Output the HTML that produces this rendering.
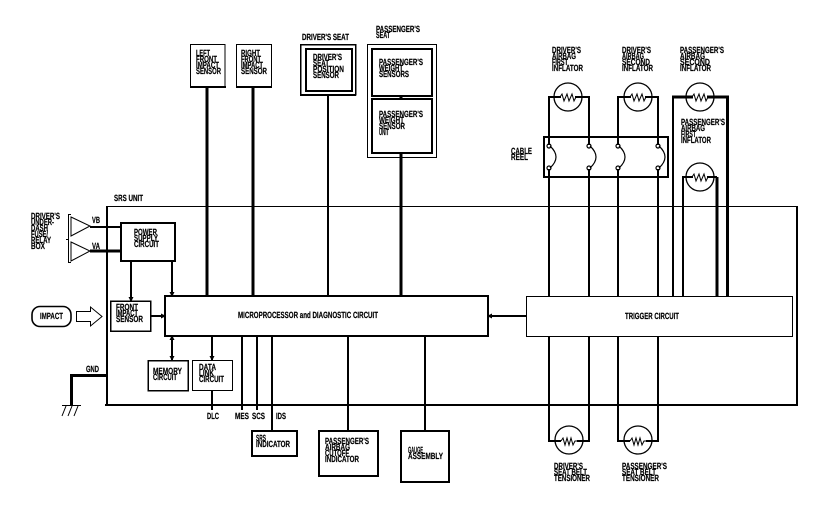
<!DOCTYPE html>
<html><head><meta charset="utf-8">
<style>
html,body{margin:0;padding:0;background:#fff;width:832px;height:512px;overflow:hidden}
svg{display:block}
text{font-family:"Liberation Sans",sans-serif;font-weight:bold;font-size:9px;fill:#000;stroke:#000;stroke-width:.2;text-rendering:geometricPrecision}
.s{shape-rendering:crispEdges;fill:none;stroke:#000}
.c{fill:none;stroke:#000;stroke-width:1.2}
</style></head><body>
<svg width="832" height="512" viewBox="0 0 832 512" xmlns="http://www.w3.org/2000/svg">
<defs>
<marker id="a" markerWidth="5" markerHeight="5" refX="4" refY="2.5" orient="auto" markerUnits="userSpaceOnUse"><path d="M0 0L5 2.5L0 5Z" fill="#000"/></marker>
<marker id="b" markerWidth="5" markerHeight="5" refX="1" refY="2.5" orient="auto" markerUnits="userSpaceOnUse"><path d="M5 0L0 2.5L5 5Z" fill="#000"/></marker>
</defs>

<!-- SRS unit -->
<path class="s" d="M106 206.500H797" stroke-width="1"/>
<path class="s" d="M107 206V406M105 405H798M797 206V406" stroke-width="2"/>

<!-- left side -->
<path d="M71 217L90 226L71 236ZM71 242L90 251L71 261Z" fill="none" stroke="#000" stroke-width="1"/>
<path class="s" d="M71 214.500H68.500V262.500H71M66 239.500H68" stroke-width="1"/>
<path class="s" d="M90 227H121" stroke-width="2"/>
<path class="s" d="M90 251H121" stroke-width="3"/>
<rect class="s" x="121" y="223" width="54" height="38" stroke-width="2"/>
<rect class="s" x="110.500" y="301" width="40" height="30" stroke-width="1.500"/>
<rect class="s" x="165" y="296" width="323" height="40" stroke-width="2"/>
<rect class="s" x="148" y="360.500" width="40" height="30" stroke-width="1.500"/>
<rect class="s" x="192.500" y="360.500" width="40" height="30" stroke-width="1"/>
<path class="s" d="M131 261V301" stroke-width="2" marker-end="url(#a)"/>
<path class="s" d="M172 261V296" stroke-width="2" marker-end="url(#a)"/>
<path class="s" d="M151 316H165" stroke-width="2" marker-end="url(#a)"/>
<path class="s" d="M172 336V360" stroke-width="2" marker-start="url(#b)" marker-end="url(#a)"/>
<path class="s" d="M212 336V360" stroke-width="2" marker-end="url(#a)"/>
<path class="s" d="M212 390V410M242 336V410M257 336V410" stroke-width="2"/>
<path class="s" d="M272 336V432" stroke-width="2"/>

<!-- GND -->
<path class="s" d="M107 375.500H71.500V406" stroke-width="3"/>
<path class="s" d="M62 405.500H81" stroke-width="1"/>
<path d="M66 406L62 416M72 406L68 416M78 406L74 416" fill="none" stroke="#000" stroke-width="1"/>

<!-- impact -->
<rect x="32" y="306.500" width="39" height="20" rx="8" fill="none" stroke="#000" stroke-width="1.600"/>
<path d="M76.500 311.500H90.500V307L102 316.500L90.500 326V321.500H76.500Z" fill="none" stroke="#000" stroke-width="1"/>

<!-- top sensors -->
<path class="s" d="M190.500 44.500H225M236.500 44.500H272M190.500 44V87M225 44V87M236.500 44V87M271.500 44V87" stroke-width="1"/>
<path class="s" d="M190 87H226M236 87H272" stroke-width="2"/>
<path class="s" d="M207 87V296M253 87V296" stroke-width="3"/>
<rect class="s" x="300.500" y="44.500" width="55" height="50" stroke-width="1.500"/>
<path class="s" d="M300 95H356" stroke-width="2"/>
<rect class="s" x="306" y="49" width="46" height="42" stroke-width="2"/>
<path class="s" d="M328 95V296" stroke-width="2"/>
<rect class="s" x="367.500" y="44.500" width="69" height="113" stroke-width="1"/>
<rect class="s" x="372" y="49" width="60" height="47" stroke-width="2"/>
<rect class="s" x="372" y="99" width="60" height="54" stroke-width="2"/>
<path class="s" d="M401 96V99M401 153V296" stroke-width="3"/>

<!-- bottom boxes -->
<rect class="s" x="252" y="431" width="45" height="25" stroke-width="2"/>
<rect class="s" x="319" y="431" width="59" height="45" stroke-width="2"/>
<rect class="s" x="401" y="431" width="48" height="51" stroke-width="2"/>
<path class="s" d="M348 336V431M425 336V431" stroke-width="2"/>

<!-- trigger -->
<rect class="s" x="526.500" y="296.500" width="266" height="40" stroke-width="1"/>
<path class="s" d="M526 316H488" stroke-width="2" marker-end="url(#a)"/>

<!-- cable reel -->
<rect class="s" x="544" y="137" width="124" height="40" stroke-width="2"/>

<!-- upper squib wiring -->
<path class="s" d="M549 145V97H561M575 97H589V145M618 145V97H631M645 97H658V145" stroke-width="2"/>
<path class="s" d="M549 169V296M589 169V296M618 169V296M658 169V296" stroke-width="2"/>
<path class="s" d="M673 296V97" stroke-width="2"/>
<path class="s" d="M672 97H693M707 97H727.500V296" stroke-width="3"/>
<path class="s" d="M683 296V177H693M707 177H717" stroke-width="2"/>
<path class="s" d="M717 177V296" stroke-width="3"/>

<!-- reel coils -->
<g class="c">
<path d="M549 146Q561 157 549 168" transform="translate(1,0)"/>
<path d="M589 146Q601 157 589 168" transform="translate(1,0)"/>
<path d="M618 146Q630 157 618 168" transform="translate(1,0)"/>
<path d="M658 146Q670 157 658 168" transform="translate(1,0)"/>
<circle cx="549" cy="146" r="2"/><circle cx="549" cy="168" r="2"/>
<circle cx="589" cy="146" r="2"/><circle cx="589" cy="168" r="2"/>
<circle cx="618" cy="146" r="2"/><circle cx="618" cy="168" r="2"/>
<circle cx="658" cy="146" r="2"/><circle cx="658" cy="168" r="2"/>
</g>

<!-- squibs -->
<g fill="none" stroke="#000" stroke-width="1.300">
<circle cx="568" cy="97" r="14"/><circle cx="638" cy="97" r="14"/><circle cx="700" cy="97" r="14"/><circle cx="700" cy="177" r="14"/>
<circle cx="569" cy="440" r="14"/><circle cx="638" cy="440" r="14"/>
</g>
<g fill="none" stroke="#000" stroke-width="1">
<path d="M560 97l2 -3l2 7l3 -7l2 7l3 -7l2 7l2 -4h3"/>
<path d="M630 97l2 -3l2 7l3 -7l2 7l3 -7l2 7l2 -4h3"/>
<path d="M692 97l2 -3l2 7l3 -7l2 7l3 -7l2 7l2 -4h3"/>
<path d="M692 177l2 -3l2 7l3 -7l2 7l3 -7l2 7l2 -4h3"/>
<path d="M561 441l2 -3l2 7l2 -7l2 7l2 -7l2 7l2 -4h3"/>
<path d="M630 441l2 -3l2 7l2 -7l2 7l2 -7l2 7l2 -4h3"/>
</g>
<path class="s" d="M549 336V441H561M589 336V441H577M618 336V441H630M658 336V441H646" stroke-width="2"/>

<!-- labels -->
<g>
<text x="114" y="201" textLength="29" lengthAdjust="spacingAndGlyphs">SRS UNIT</text>
<text x="31" y="219" textLength="29" lengthAdjust="spacingAndGlyphs">DRIVER'S</text>
<text x="31" y="225" textLength="23" lengthAdjust="spacingAndGlyphs">UNDER-</text>
<text x="31" y="231" textLength="17" lengthAdjust="spacingAndGlyphs">DASH</text>
<text x="31" y="237" textLength="17" lengthAdjust="spacingAndGlyphs">FUSE/</text>
<text x="31" y="243" textLength="20" lengthAdjust="spacingAndGlyphs">RELAY</text>
<text x="31" y="249" textLength="14" lengthAdjust="spacingAndGlyphs">BOX</text>
<text x="92" y="223" textLength="8" lengthAdjust="spacingAndGlyphs">VB</text>
<text x="92" y="249" textLength="8" lengthAdjust="spacingAndGlyphs">VA</text>
<text x="134" y="235" textLength="23" lengthAdjust="spacingAndGlyphs">POWER</text>
<text x="134" y="241" textLength="24" lengthAdjust="spacingAndGlyphs">SUPPLY</text>
<text x="134" y="247" textLength="25" lengthAdjust="spacingAndGlyphs">CIRCUIT</text>
<text x="116" y="310" textLength="22" lengthAdjust="spacingAndGlyphs">FRONT</text>
<text x="116" y="316" textLength="22" lengthAdjust="spacingAndGlyphs">IMPACT</text>
<text x="116" y="322" textLength="27" lengthAdjust="spacingAndGlyphs">SENSOR</text>
<text x="40" y="319" textLength="23" lengthAdjust="spacingAndGlyphs">IMPACT</text>
<text x="238" y="318" textLength="140" lengthAdjust="spacingAndGlyphs">MICROPROCESSOR and DIAGNOSTIC CIRCUIT</text>
<text x="153" y="374" textLength="29" lengthAdjust="spacingAndGlyphs">MEMORY</text>
<text x="153" y="380" textLength="24" lengthAdjust="spacingAndGlyphs">CIRCUIT</text>
<text x="199" y="370" textLength="17" lengthAdjust="spacingAndGlyphs">DATA</text>
<text x="199" y="376" textLength="15" lengthAdjust="spacingAndGlyphs">LINK</text>
<text x="199" y="382" textLength="25" lengthAdjust="spacingAndGlyphs">CIRCUIT</text>
<text x="86" y="372" textLength="13" lengthAdjust="spacingAndGlyphs">GND</text>
<text x="207" y="419" textLength="12" lengthAdjust="spacingAndGlyphs">DLC</text>
<text x="235" y="419" textLength="14" lengthAdjust="spacingAndGlyphs">MES</text>
<text x="252" y="419" textLength="13" lengthAdjust="spacingAndGlyphs">SCS</text>
<text x="276" y="419" textLength="10" lengthAdjust="spacingAndGlyphs">IDS</text>

<text x="196" y="56" textLength="14" lengthAdjust="spacingAndGlyphs">LEFT</text>
<text x="196" y="62" textLength="21" lengthAdjust="spacingAndGlyphs">FRONT</text>
<text x="196" y="68" textLength="23" lengthAdjust="spacingAndGlyphs">IMPACT</text>
<text x="196" y="74" textLength="25" lengthAdjust="spacingAndGlyphs">SENSOR</text>
<text x="241" y="56" textLength="19" lengthAdjust="spacingAndGlyphs">RIGHT</text>
<text x="241" y="62" textLength="20" lengthAdjust="spacingAndGlyphs">FRONT</text>
<text x="241" y="68" textLength="22" lengthAdjust="spacingAndGlyphs">IMPACT</text>
<text x="241" y="74" textLength="26" lengthAdjust="spacingAndGlyphs">SENSOR</text>
<text x="302" y="40" textLength="47" lengthAdjust="spacingAndGlyphs">DRIVER'S SEAT</text>
<text x="376" y="32" textLength="44" lengthAdjust="spacingAndGlyphs">PASSENGER'S</text>
<text x="376" y="38" textLength="14" lengthAdjust="spacingAndGlyphs">SEAT</text>
<text x="313" y="60" textLength="29" lengthAdjust="spacingAndGlyphs">DRIVER'S</text>
<text x="313" y="66" textLength="16" lengthAdjust="spacingAndGlyphs">SEAT</text>
<text x="313" y="72" textLength="31" lengthAdjust="spacingAndGlyphs">POSITION</text>
<text x="313" y="78" textLength="26" lengthAdjust="spacingAndGlyphs">SENSOR</text>
<text x="379" y="65" textLength="44" lengthAdjust="spacingAndGlyphs">PASSENGER'S</text>
<text x="379" y="71" textLength="24" lengthAdjust="spacingAndGlyphs">WEIGHT</text>
<text x="379" y="77" textLength="30" lengthAdjust="spacingAndGlyphs">SENSORS</text>
<text x="379" y="117" textLength="44" lengthAdjust="spacingAndGlyphs">PASSENGER'S</text>
<text x="379" y="123" textLength="25" lengthAdjust="spacingAndGlyphs">WEIGHT</text>
<text x="379" y="129" textLength="26" lengthAdjust="spacingAndGlyphs">SENSOR</text>
<text x="379" y="135" textLength="10" lengthAdjust="spacingAndGlyphs">UNIT</text>

<text x="552" y="53" textLength="29" lengthAdjust="spacingAndGlyphs">DRIVER'S</text>
<text x="552" y="59" textLength="24" lengthAdjust="spacingAndGlyphs">AIRBAG</text>
<text x="552" y="65" textLength="16" lengthAdjust="spacingAndGlyphs">FIRST</text>
<text x="552" y="71" textLength="31" lengthAdjust="spacingAndGlyphs">INFLATOR</text>
<text x="622" y="53" textLength="29" lengthAdjust="spacingAndGlyphs">DRIVER'S</text>
<text x="622" y="59" textLength="22" lengthAdjust="spacingAndGlyphs">AIRBAG</text>
<text x="622" y="65" textLength="28" lengthAdjust="spacingAndGlyphs">SECOND</text>
<text x="622" y="71" textLength="31" lengthAdjust="spacingAndGlyphs">INFLATOR</text>
<text x="680" y="53" textLength="44" lengthAdjust="spacingAndGlyphs">PASSENGER'S</text>
<text x="680" y="59" textLength="25" lengthAdjust="spacingAndGlyphs">AIRBAG</text>
<text x="680" y="65" textLength="30" lengthAdjust="spacingAndGlyphs">SECOND</text>
<text x="680" y="71" textLength="31" lengthAdjust="spacingAndGlyphs">INFLATOR</text>
<text x="681" y="125" textLength="44" lengthAdjust="spacingAndGlyphs">PASSENGER'S</text>
<text x="681" y="131" textLength="24" lengthAdjust="spacingAndGlyphs">AIRBAG</text>
<text x="681" y="137" textLength="15" lengthAdjust="spacingAndGlyphs">FIRST</text>
<text x="681" y="143" textLength="30" lengthAdjust="spacingAndGlyphs">INFLATOR</text>
<text x="511" y="154" textLength="21" lengthAdjust="spacingAndGlyphs">CABLE</text>
<text x="511" y="160" textLength="17" lengthAdjust="spacingAndGlyphs">REEL</text>
<text x="625" y="319" textLength="54" lengthAdjust="spacingAndGlyphs">TRIGGER CIRCUIT</text>

<text x="554" y="469" textLength="29" lengthAdjust="spacingAndGlyphs">DRIVER'S</text>
<text x="554" y="475" textLength="33" lengthAdjust="spacingAndGlyphs">SEAT BELT</text>
<text x="554" y="481" textLength="36" lengthAdjust="spacingAndGlyphs">TENSIONER</text>
<text x="622" y="469" textLength="45" lengthAdjust="spacingAndGlyphs">PASSENGER'S</text>
<text x="622" y="475" textLength="34" lengthAdjust="spacingAndGlyphs">SEAT BELT</text>
<text x="622" y="481" textLength="37" lengthAdjust="spacingAndGlyphs">TENSIONER</text>
<text x="256" y="441" textLength="10" lengthAdjust="spacingAndGlyphs">SRS</text>
<text x="256" y="447" textLength="34" lengthAdjust="spacingAndGlyphs">INDICATOR</text>
<text x="325" y="444" textLength="44" lengthAdjust="spacingAndGlyphs">PASSENGER'S</text>
<text x="325" y="450" textLength="25" lengthAdjust="spacingAndGlyphs">AIRBAG</text>
<text x="325" y="456" textLength="24" lengthAdjust="spacingAndGlyphs">CUTOFF</text>
<text x="325" y="462" textLength="34" lengthAdjust="spacingAndGlyphs">INDICATOR</text>
<text x="408" y="453" textLength="15" lengthAdjust="spacingAndGlyphs">GAUGE</text>
<text x="408" y="459" textLength="35" lengthAdjust="spacingAndGlyphs">ASSEMBLY</text>
</g>
</svg>
</body></html>
